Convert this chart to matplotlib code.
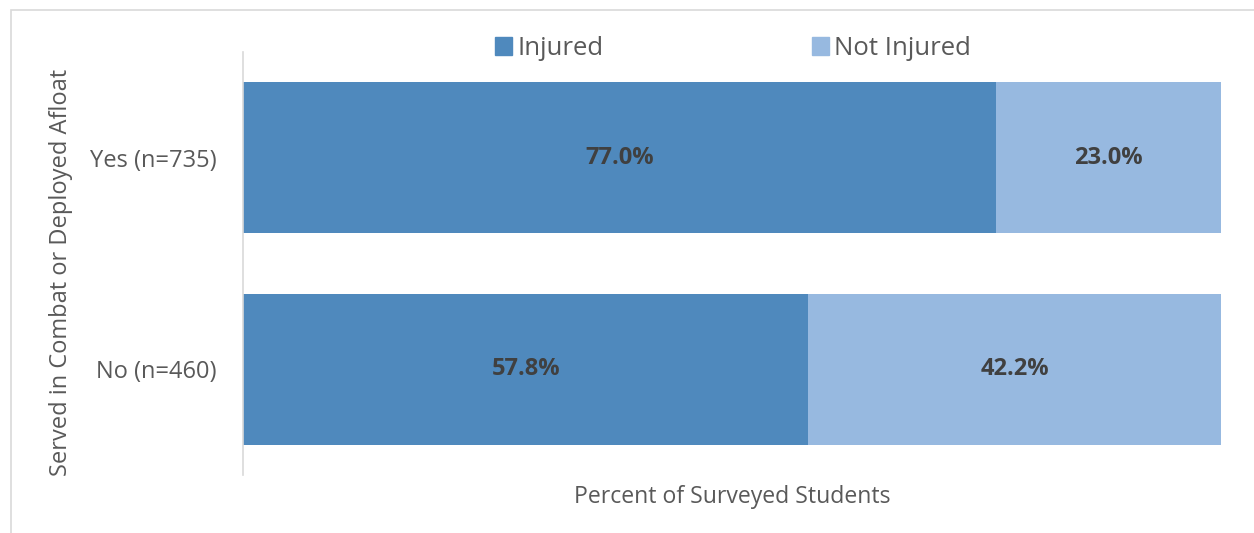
import matplotlib.pyplot as plt
from matplotlib.patches import Rectangle, Patch

# data
groups = ["Yes (n=735)", "No (n=460)"]
injured = [77.0, 57.8]
not_injured = [23.0, 42.2]

c_inj = "#4F89BD"
c_not = "#97B9E0"
grey = "#595959"

plt.rcParams['font.family'] = ['Open Sans', 'DejaVu Sans']

fig = plt.figure(figsize=(12.54, 5.33), dpi=100)
ax = fig.add_axes([243 / 1254, 1 - 475 / 533, (1221 - 243) / 1254, 423 / 533])

# light border round the chart area
fig.patches.append(Rectangle((11 / 1254, -0.1), 1.2, 1 - 10 / 533 + 0.1,
                             transform=fig.transFigure, fill=False,
                             edgecolor="#D9D9D9", linewidth=1.2))

ypos = list(range(len(groups)))
ax.barh(ypos, injured, height=0.715, color=c_inj)
ax.barh(ypos, not_injured, left=injured, height=0.715, color=c_not)

for y, a, b in zip(ypos, injured, not_injured):
    ax.text(a / 2, y, f"{a:.1f}%", ha="center", va="center",
            fontsize=17, fontweight="bold", color="#404040")
    ax.text(a + b / 2, y, f"{b:.1f}%", ha="center", va="center",
            fontsize=17, fontweight="bold", color="#404040")

ax.set_xlim(0, 100)
ax.set_ylim(-0.5, 1.5)
ax.invert_yaxis()
ax.set_yticks(ypos)
ax.set_yticklabels(groups)
ax.set_xticks([])
ax.tick_params(axis="y", length=0, pad=19, labelsize=17, labelcolor=grey)

for s in ["top", "right", "bottom"]:
    ax.spines[s].set_visible(False)
ax.spines["left"].set_color("#D9D9D9")
ax.spines["left"].set_linewidth(1.2)

ax.set_xlabel("Percent of Surveyed Students", fontsize=16.6, color=grey, labelpad=7)
fig.text(61 / 1254, 1 - 272 / 533, "Served in Combat or Deployed Afloat",
         rotation=90, ha="center", va="center", fontsize=17, color=grey)

handles = [Patch(color=c_inj), Patch(color=c_not)]
fig.legend(handles, ["Injured", "Not Injured"], loc="center",
           bbox_to_anchor=(733 / 1254, 1 - 48.5 / 533), ncol=2, frameon=False,
           fontsize=18.5, handlelength=0.66, handleheight=0.66, handletextpad=0.22,
           columnspacing=8.1, labelcolor=grey)

fig.savefig("out.png", dpi=100)
